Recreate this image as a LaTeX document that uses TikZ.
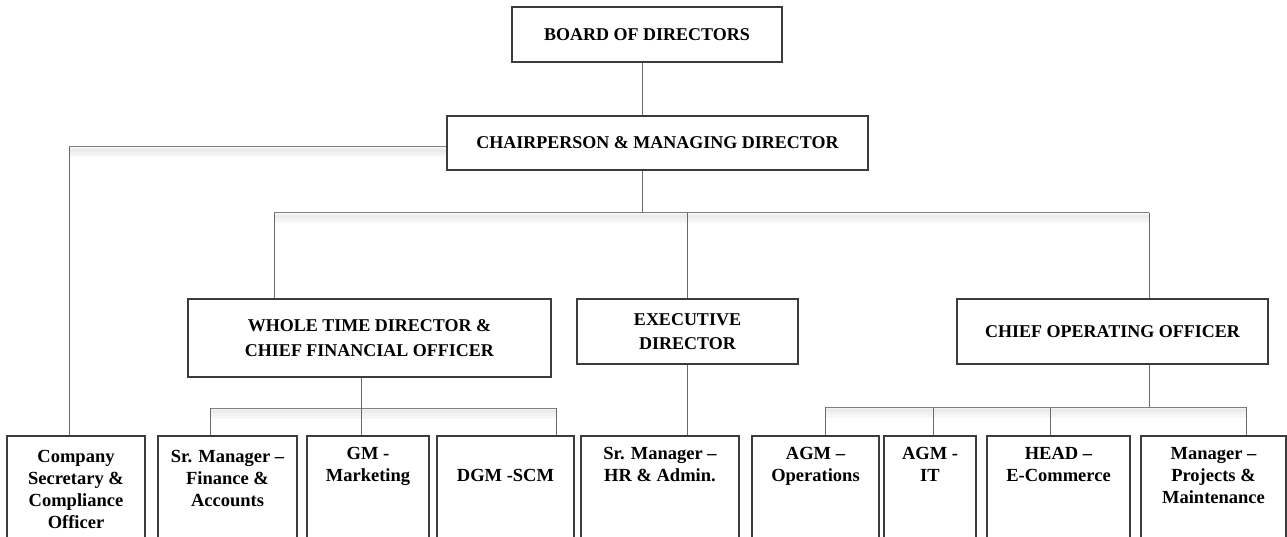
\documentclass[tikz,border=0pt]{standalone}
\usepackage{fontspec}
\setmainfont{Liberation Serif}
\usetikzlibrary{positioning,calc}
\definecolor{edge}{HTML}{3C3C3C}
\definecolor{wire}{HTML}{6A6A6A}
\definecolor{glow}{HTML}{E4E4E4}

\begin{document}
\begin{tikzpicture}[
  x=1pt, y=-1pt,
  box/.style={draw=edge, line width=1.1pt, fill=white, align=center, inner sep=0pt, font=\bfseries\fontsize{18}{24.5}\selectfont},
  leaf/.style={draw=edge, line width=1.1pt, fill=white, inner sep=0pt, minimum height=110pt},
  leaftxt/.style={align=center, inner sep=0pt, font=\bfseries\fontsize{18.5}{22}\selectfont},
  wire/.style={draw=wire, line width=1pt},
  bus/.style={draw=wire!85, line width=1pt,
    preaction={draw=black!3, line width=11pt, transform canvas={yshift=-5pt}},
    preaction={draw=black!5, line width=7pt, transform canvas={yshift=-4.5pt}},
    preaction={draw=black!8, line width=3pt, transform canvas={yshift=-3.5pt}}},
]
\useasboundingbox (0,0) rectangle (1287,537);

% upper levels
\node[box, minimum width=270pt, minimum height=55pt] (board) at (647,34.5) {BOARD OF DIRECTORS};
\node[box, minimum width=421pt, minimum height=54pt] (chair) at (657.5,143) {CHAIRPERSON \& MANAGING DIRECTOR};
\node[box, minimum width=363pt, minimum height=78pt] (wtd) at (369.5,338) {WHOLE TIME DIRECTOR \&\\CHIEF FINANCIAL OFFICER};
\node[box, minimum width=221pt, minimum height=65pt] (ed) at (687.5,331.5) {EXECUTIVE\\DIRECTOR};
\node[box, minimum width=311pt, minimum height=65pt] (coo) at (1112.5,331.5) {CHIEF OPERATING OFFICER};

% bottom row
\node[leaf, minimum width=138pt] (sec) at (76,491) {};
\node[leaf, minimum width=139pt] (fin) at (227.5,491) {};
\node[leaf, minimum width=122pt] (gm) at (368,491) {};
\node[leaf, minimum width=137pt] (dgm) at (505.5,491) {};
\node[leaf, minimum width=158pt] (hr) at (660,491) {};
\node[leaf, minimum width=127pt] (ops) at (815.5,491) {};
\node[leaf, minimum width=92pt] (it) at (930,491) {};
\node[leaf, minimum width=143pt] (head) at (1058.5,491) {};
\node[leaf, minimum width=145pt] (mgr) at (1213.5,491) {};

\node[leaftxt, below=15pt of sec.north] (sectxt) {Company\\Secretary \&\\Compliance\\Officer};
\node[leaftxt, below=15pt of fin.north] (fintxt) {Sr. Manager --\\Finance \&\\Accounts};
\node[leaftxt, below=12pt of gm.north] (gmtxt) {GM -\\Marketing};
\node[leaftxt, below=34pt of dgm.north] (dgmtxt) {DGM -SCM};
\node[leaftxt, below=12pt of hr.north] (hrtxt) {Sr. Manager --\\HR \& Admin.};
\node[leaftxt, below=12pt of ops.north] (opstxt) {AGM --\\Operations};
\node[leaftxt, below=12pt of it.north] (ittxt) {AGM -\\IT};
\node[leaftxt, below=12pt of head.north] (headtxt) {HEAD --\\E-Commerce};
\node[leaftxt, below=12pt of mgr.north] (mgrtxt) {Manager --\\Projects \&\\Maintenance};

% connectors
\coordinate (j0) at (642,213);
\coordinate (busL) at (274,213);
\coordinate (busR) at (1149,213);
\coordinate (secbend) at (69,147);
\coordinate (fbus) at (361,408);
\coordinate (fbusL) at (210,408);
\coordinate (fbusR) at (556,408);
\coordinate (obus) at (1149,407);

\draw[bus] (chair.west |- secbend) -- (secbend);
\draw[bus] (busL) -- (busR);
\draw[bus] (fbusL) -- (fbusR);
\draw[bus] (825,407) -- (1246,407);

\draw[wire] (board.south -| j0) -- (chair.north -| j0);
\draw[wire] (chair.south -| j0) -- (j0);
\draw[wire] (secbend) -- (sec.north -| secbend);
\draw[wire] (busL) -- (wtd.north -| busL);
\draw[wire] (ed.north |- busL) -- (ed.north);
\draw[wire] (busR) -- (coo.north -| busR);

\draw[wire] (wtd.south -| fbus) -- (gm.north -| fbus);
\draw[wire] (fbusL) -- (fin.north -| fbusL);
\draw[wire] (fbusR) -- (dgm.north -| fbusR);
\draw[wire] (ed.south) -- (ed.south |- hr.north);

\draw[wire] (coo.south -| obus) -- (obus);
\foreach \n/\x in {ops/825, it/933, head/1050, mgr/1246}{
  \coordinate (\n-in) at (\x,407);
  \draw[wire] (\n-in) -- (\n.north -| \n-in);
}
\end{tikzpicture}
\end{document}
